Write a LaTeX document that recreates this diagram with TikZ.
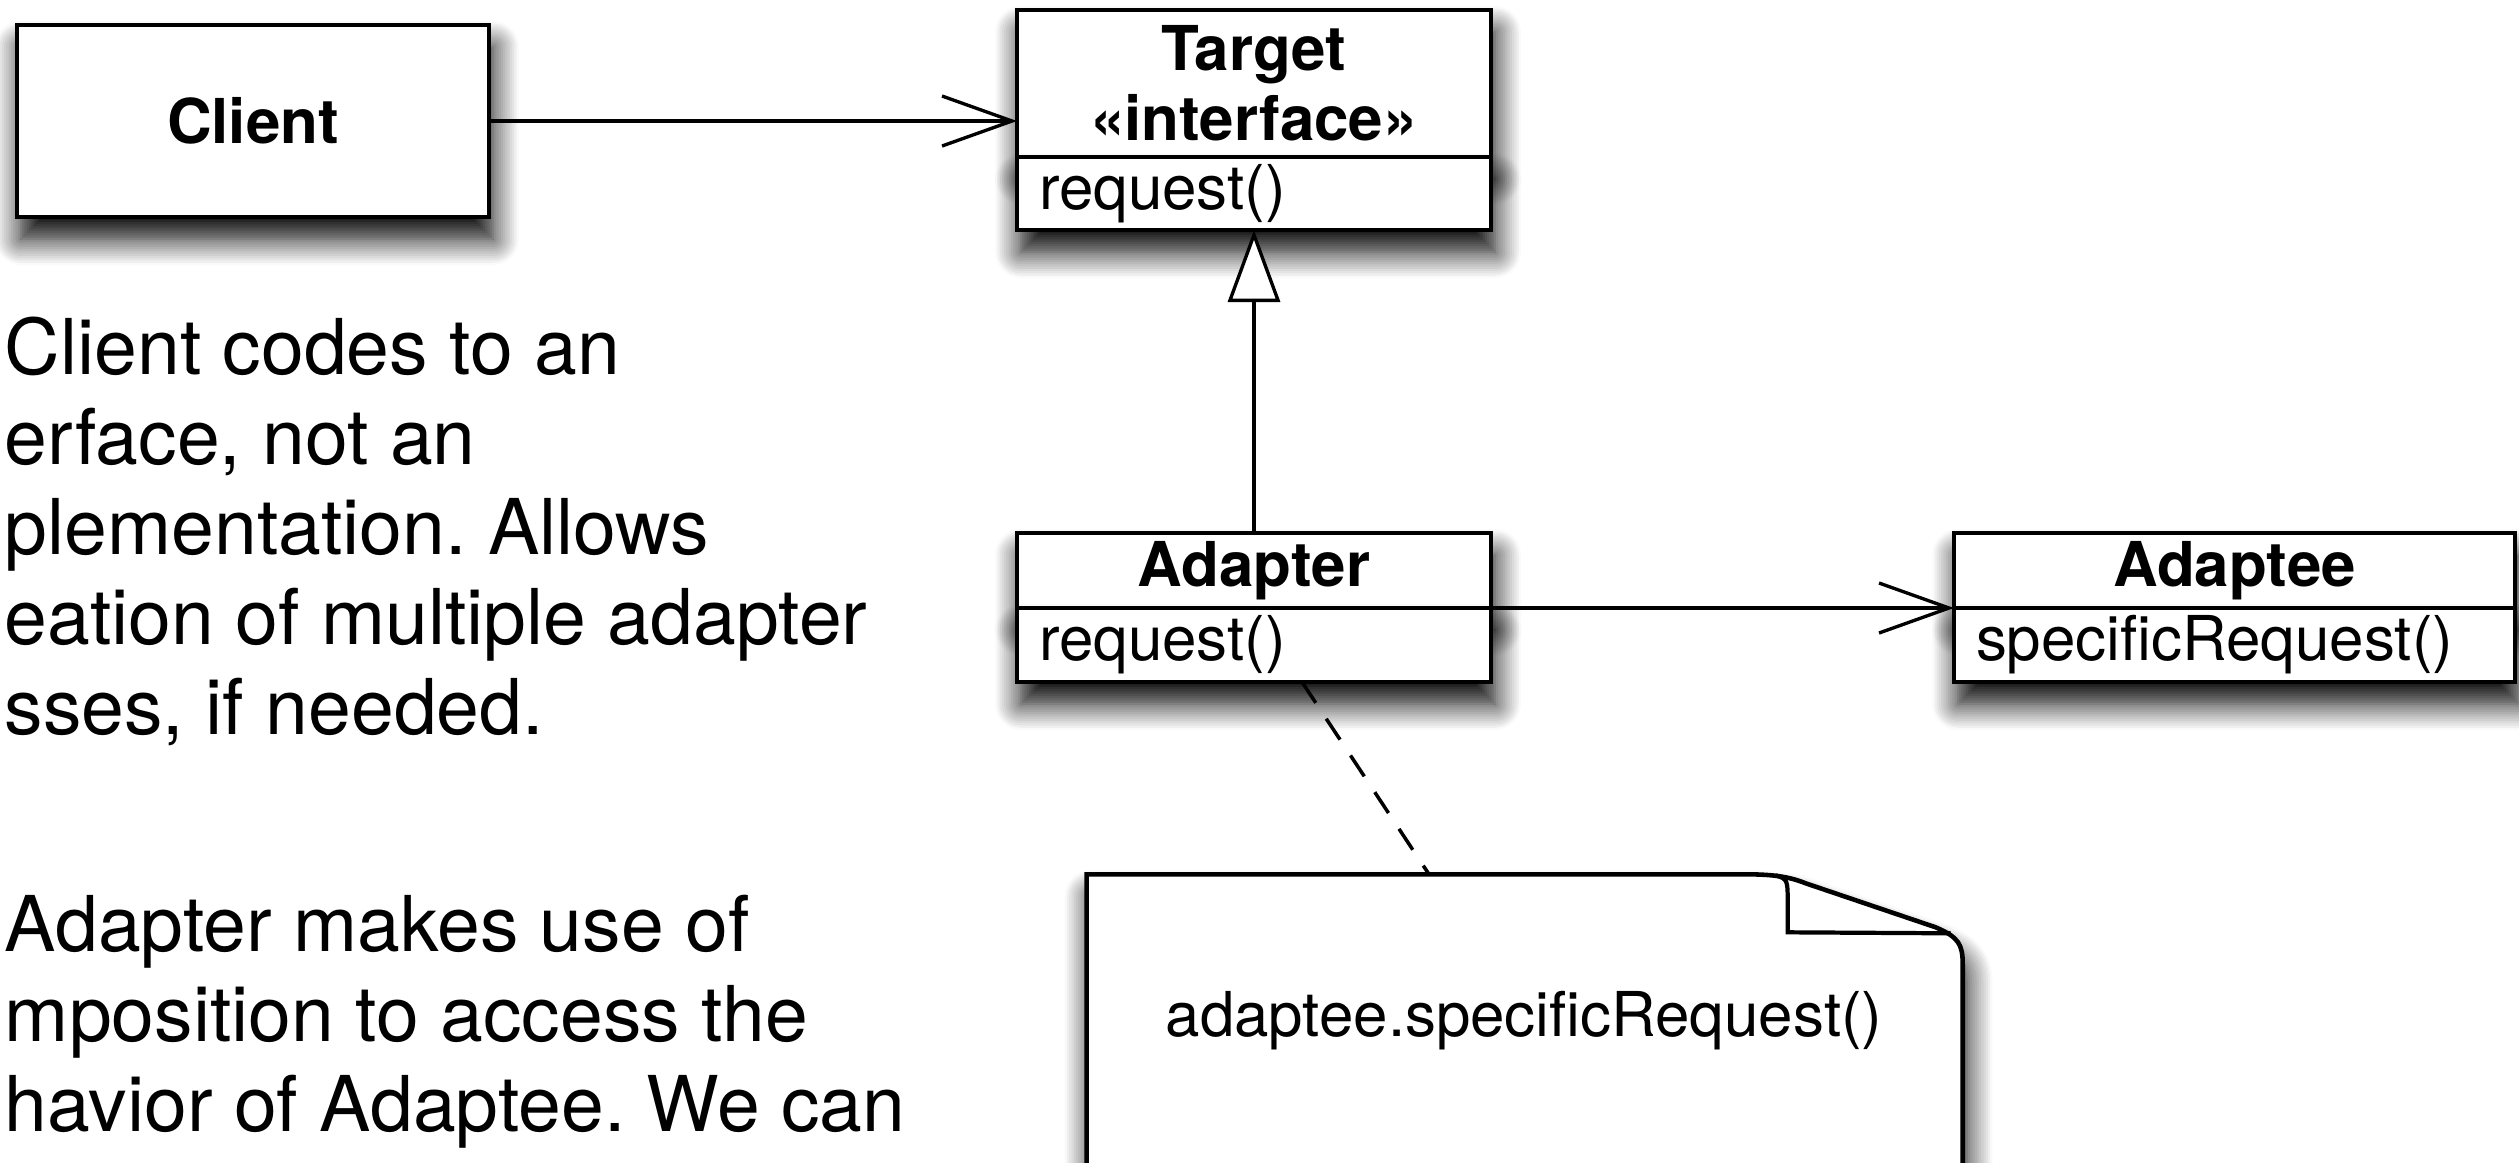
\documentclass[tikz,border=0pt]{standalone}
\usepackage{fontspec}
\setmainfont{TeX Gyre Heros}
\usetikzlibrary{positioning}
\usetikzlibrary{arrows.meta}
\usetikzlibrary{shadows.blur}
\usetikzlibrary{backgrounds}
\newcommand{\umlfont}{\fontsize{17.6pt}{19.9pt}\selectfont}
\newcommand{\remarkfont}{\fontsize{21.9pt}{25.6pt}\selectfont}
\frenchspacing

\tikzset{
  umlshadow/.style={blur shadow={shadow xshift=0.04cm, shadow yshift=-0.22cm,
      shadow blur radius=0.26cm, shadow blur steps=12, shadow opacity=100}},
  umlbox/.style={draw, fill=white, line width=1.4pt, inner sep=0pt,
      outer sep=0pt, umlshadow},
  classname/.style={umlbox, font=\umlfont\bfseries, align=center},
  classops/.style={umlbox, font=\umlfont, align=left, inner xsep=0.22cm},
  assoc/.style={line width=0.95pt, -{Straight Barb[length=0.7cm, width=0.5cm]}},
  inherit/.style={line width=0.95pt, -{Triangle[length=0.72cm, width=0.52cm, fill=white]}},
  notelink/.style={line width=1pt, dash pattern=on 0.25cm off 0.19cm},
  remark/.style={font=\remarkfont, align=left, inner sep=0pt, anchor=base west},
}

\begin{document}
\begin{tikzpicture}
  \useasboundingbox (0,0) rectangle (25.19,-11.62);
  \clip (0,0) rectangle (25.19,-11.62);

  % classes
  \node[classname, minimum width=4.72cm, minimum height=1.92cm] (client) at (2.53,-1.21) {Client};
  \node[classname, minimum width=4.74cm, minimum height=1.47cm] (targetname) at (12.54,-0.835) {Target\\«interface»};
  \node[classops, text width=4.30cm, minimum height=0.73cm, below=0pt of targetname] (targetops) {request()};
  \node[classname, minimum width=4.74cm, minimum height=0.75cm] (adaptername) at (12.54,-5.705) {Adapter};
  \node[classops, text width=4.30cm, minimum height=0.74cm, below=0pt of adaptername] (adapterops) {request()};
  \node[classname, minimum width=5.61cm, minimum height=0.75cm, right=4.63cm of adaptername] (adapteename) {Adaptee};
  \node[classops, text width=5.17cm, minimum height=0.74cm, below=0pt of adapteename] (adapteeops) {specificRequest()};

  % note
  \node[font=\umlfont, minimum width=8.76cm, minimum height=2.92cm] (note) at (15.24,-10.21) {adaptee.specificRequest()};
  \begin{scope}[on background layer, shift={(note.north east)}]
    \clip (-16,1) rectangle (1,-2.96);
    \draw[line width=1.3pt, fill=white, umlshadow] (-8.76,-3.22) -- (-8.76,0) -- (-2.17,0)
      .. controls (-1.87,0) and (-1.72,-0.03) .. (-1.57,-0.09) -- (-0.27,-0.53)
      .. controls (-0.04,-0.63) and (0,-0.70) .. (0,-0.90) -- (0,-3.22) -- cycle;
    \draw[line width=1.2pt] (-1.87,-0.01) .. controls (-1.75,-0.05) .. (-1.75,-0.30)
      -- (-1.75,-0.58) -- (-0.12,-0.59);
  \end{scope}

  % remarks
  \node[remark] (clientremark) at (0.04,-7.34) {Client codes to an\\erface, not an\\plementation. Allows\\eation of multiple adapter\\sses, if needed.};
  \node[remark] (adapterremark) at (0.04,-11.31) {Adapter makes use of\\mposition to access the\\havior of Adaptee. We can};

  % connectors
  \draw[assoc] (client.east) -- (client.east -| targetname.west);
  \draw[inherit] (adaptername.north) -- (targetops.south);
  \draw[assoc] (adaptername.south east) -- (adapteename.south west);
  \draw[notelink] ([xshift=0.48cm]adapterops.south) -- ([xshift=-0.95cm]note.north);
\end{tikzpicture}
\end{document}
